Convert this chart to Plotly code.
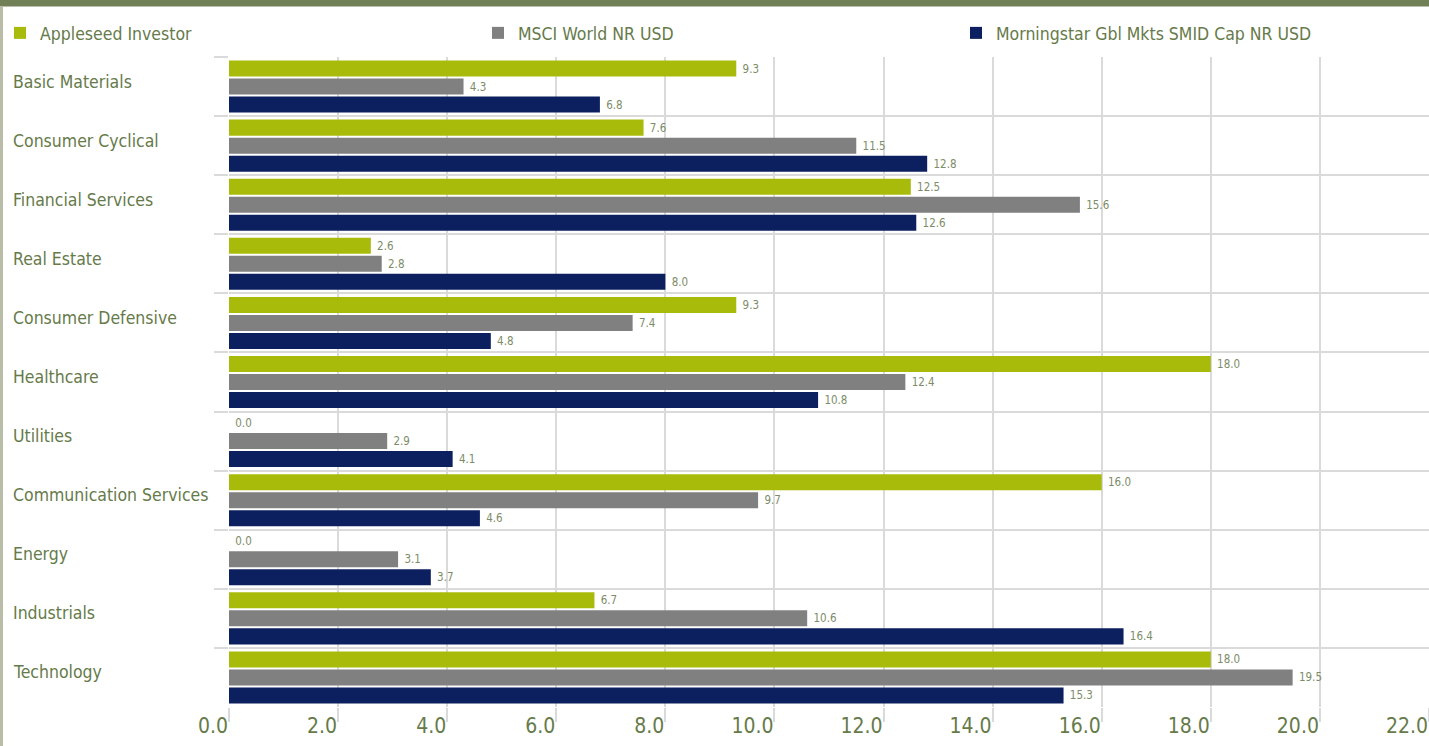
import plotly.graph_objects as go

categories = ["Basic Materials", "Consumer Cyclical", "Financial Services", "Real Estate",
              "Consumer Defensive", "Healthcare", "Utilities", "Communication Services",
              "Energy", "Industrials", "Technology"]
series_names = ["Appleseed Investor", "MSCI World NR USD", "Morningstar Gbl Mkts SMID Cap NR USD"]
appleseed = [9.3, 7.6, 12.5, 2.6, 9.3, 18.0, 0.0, 16.0, 0.0, 6.7, 18.0]
msci = [4.3, 11.5, 15.6, 2.8, 7.4, 12.4, 2.9, 9.7, 3.1, 10.6, 19.5]
morningstar = [6.8, 12.8, 12.6, 8.0, 4.8, 10.8, 4.1, 4.6, 3.7, 16.4, 15.3]
x_ticks = [0, 2, 4, 6, 8, 10, 12, 14, 16, 18, 20, 22]
colors = ["#a8bb0a", "#808080", "#0c1f5e"]

FONT = "DejaVu Sans Condensed, Liberation Sans Narrow, Arial Narrow, sans-serif"
TEXT_COLOR = "#667a4a"
LABEL_COLOR = "#7d8c68"
GRID = "#dadada"

W, H = 1429, 746
ML, MR, MT, MB = 229, 0, 57, 39
PW, PH = W - ML - MR, H - MT - MB

legend_ids = ["legend", "legend2", "legend3"]
legend_left_px = [0, 478, 956]

fig = go.Figure()
for name, vals, col, lid in zip(series_names, [appleseed, msci, morningstar], colors, legend_ids):
    fig.add_trace(go.Bar(
        y=categories, x=vals, name=name, orientation="h",
        marker=dict(color=col, line=dict(width=0)),
        text=vals, texttemplate="\u00a0%{x:.1f}", textposition="outside",
        outsidetextfont=dict(family=FONT, size=11.5, color=LABEL_COLOR),
        cliponaxis=False, legend=lid,
    ))

annotations = []
for c in categories:
    annotations.append(dict(
        x=(11 - ML) / PW, xref="paper", y=c, yref="y", text=c, showarrow=False,
        xanchor="left", yanchor="middle", yshift=5,
        font=dict(family=FONT, size=17.5, color=TEXT_COLOR),
    ))

shapes = [
    dict(type="rect", xref="paper", yref="paper",
         x0=-ML / PW - 0.01, x1=1.01, y0=1 + (MT - 6.5) / PH, y1=1 + MT / PH + 0.01,
         fillcolor="#728057", line=dict(width=0), layer="above"),
    dict(type="rect", xref="paper", yref="paper",
         x0=-ML / PW - 0.01, x1=(3 - ML) / PW, y0=-MB / PH - 0.01, y1=1 + (MT - 6.5) / PH,
         fillcolor="#b9bda8", line=dict(width=0), layer="above"),
]

legend_common = dict(
    orientation="h", xanchor="left", y=1 + (MT - 33) / PH, yanchor="middle",
    font=dict(family=FONT, size=17.5, color=TEXT_COLOR),
    bgcolor="rgba(0,0,0,0)", borderwidth=0,
)
legends = {}
for lid, lx in zip(legend_ids, legend_left_px):
    legends[lid] = dict(legend_common, x=(lx - ML) / PW)

fig.update_layout(
    width=W, height=H,
    margin=dict(l=ML, r=MR, t=MT, b=MB, pad=0),
    paper_bgcolor="white", plot_bgcolor="white",
    barmode="group", bargap=0.086, bargroupgap=0.11,
    font=dict(family=FONT, color=TEXT_COLOR),
    showlegend=True,
    xaxis=dict(
        range=[0, 22], tickvals=x_ticks, ticktext=[f"{v:.1f}" for v in x_ticks],
        ticklabelposition="outside left",
        showgrid=True, gridcolor=GRID, gridwidth=2,
        ticks="outside", ticklen=14, tickcolor=GRID, tickwidth=2,
        zeroline=False, showline=False,
        tickfont=dict(family=FONT, size=21, color=TEXT_COLOR),
        fixedrange=True,
    ),
    yaxis=dict(
        categoryorder="array", categoryarray=categories, autorange="reversed",
        tickson="boundaries", showgrid=True, gridcolor=GRID, gridwidth=2,
        ticks="outside", ticklen=14, tickcolor=GRID, tickwidth=2,
        showticklabels=False, showline=False, zeroline=False,
        fixedrange=True,
    ),
    annotations=annotations,
    shapes=shapes,
    **legends,
)

fig.write_html("out.html", config={"displayModeBar": False},
               post_script="document.body.style.margin='0';document.body.style.overflow='hidden';")
